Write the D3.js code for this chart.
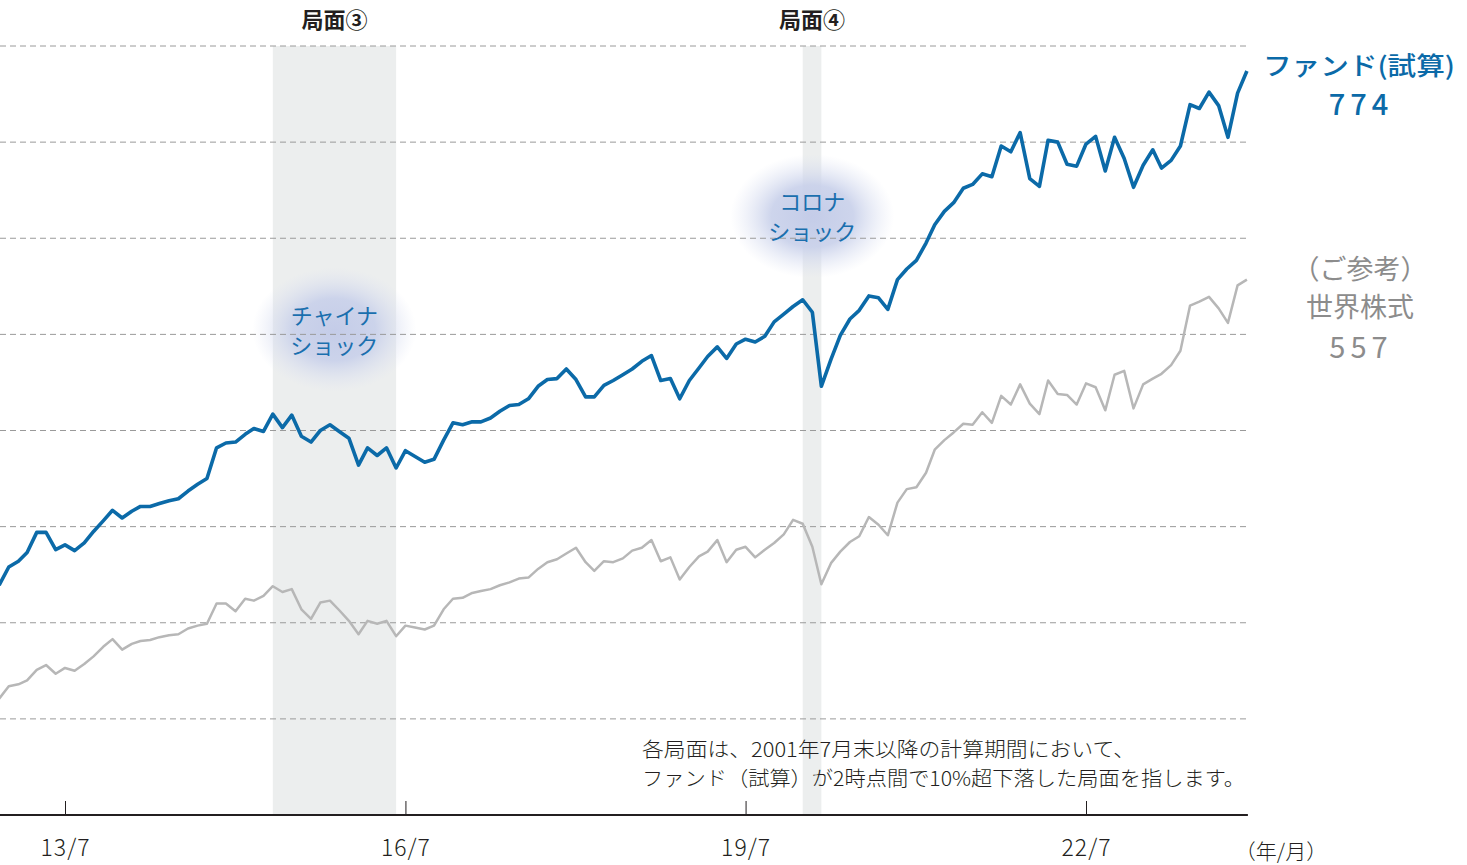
<!DOCTYPE html>
<html>
<head>
<meta charset="utf-8">
<script src="https://cdn.jsdelivr.net/npm/d3@7"></script>
<style>
  body { margin: 0; background: #fff; }
  svg { display: block; font-family: "Noto Sans CJK JP", "Noto Sans", sans-serif; }
</style>
</head>
<body>
<div id="chart"></div>
<script>
// monthly points, 2012/12 .. 2023/12
const months = d3.timeMonth.range(new Date(2012, 11, 1), new Date(2024, 0, 1));

const fund = [239, 258, 264, 273, 294, 294, 276, 281, 275, 283,
  295, 306, 317, 309, 316, 321, 321, 324, 327, 329,
  337, 344, 350, 382, 387, 388, 396, 402, 399, 417,
  403, 416, 394, 388, 400, 406, 399, 392, 364, 382,
  374, 382, 361, 379, 373, 367, 370, 390, 408, 406,
  409, 409, 413, 420, 426, 427, 433, 446, 453, 454,
  464, 453, 435, 435, 447, 452, 458, 464, 472, 478,
  452, 454, 433, 452, 465, 477, 487, 475, 490, 495,
  492, 498, 513, 521, 529, 536, 523, 446, 474, 499,
  516, 525, 540, 538, 526, 557, 568, 577, 595, 614,
  628, 637, 652, 656, 667, 664, 696, 690, 710, 662,
  654, 702, 700, 677, 675, 698, 706, 670, 705, 683,
  653, 676, 692, 673, 681, 696, 739, 735, 752, 738,
  705, 751, 774];

const world = [121, 134, 136, 140, 151, 156, 147, 153, 150, 157,
  165, 175, 183, 172, 178, 181, 182, 185, 187, 188,
  194, 197, 199, 220, 220, 212, 225, 223, 228, 238,
  232, 235, 214, 204, 221, 223, 213, 202, 188, 202,
  199, 202, 186, 197, 195, 193, 197, 214, 225, 226,
  231, 233, 235, 239, 242, 246, 247, 256, 263, 266,
  272, 278, 263, 254, 264, 263, 267, 275, 278, 286,
  264, 268, 245, 258, 269, 274, 286, 263, 276, 279,
  268, 276, 283, 292, 307, 303, 279, 240, 262, 274,
  284, 290, 310, 302, 291, 325, 339, 341, 356, 380,
  390, 398, 407, 406, 419, 408, 436, 427, 448, 428,
  417, 452, 438, 437, 427, 449, 445, 421, 458, 462,
  423, 448, 454, 459, 468, 483, 530, 534, 539, 527,
  512, 551, 557];

const tickDates = [new Date(2013, 6, 1), new Date(2016, 6, 1), new Date(2019, 6, 1), new Date(2022, 6, 1)];
const gridValues = [100, 200, 300, 400, 500, 600, 700, 800];

// drawdown phases (start month, end month)
const phases = [
  { name: "局面③", from: new Date(2015, 4, 1), to: new Date(2016, 5, 1) },
  { name: "局面④", from: new Date(2020, 0, 1), to: new Date(2020, 2, 1) }
];
const shocks = [
  { lines: ["チャイナ", "ショック"], date: new Date(2015, 10, 15), value: 505 },
  { lines: ["コロナ", "ショック"], date: new Date(2020, 1, 1), value: 623 }
];

const width = 1467, height = 865;
const plotLeft = 0;

const svg = d3.select("#chart").append("svg")
  .attr("width", width)
  .attr("height", height);

const x = d3.scaleTime()
  .domain([new Date(2013, 6, 1), new Date(2022, 6, 1)])
  .range([65, 1086]);

const y = d3.scaleLinear()
  .domain([0, 800])
  .range([815, 46]);

const plotRight = x(months[months.length - 1]) + 1;

const defs = svg.append("defs");
defs.append("clipPath").attr("id", "plot")
  .append("rect")
  .attr("x", plotLeft).attr("y", 0)
  .attr("width", plotRight - plotLeft + 4).attr("height", height);

const glow = defs.append("radialGradient").attr("id", "glow");
glow.append("stop").attr("offset", "0%").attr("stop-color", "#c4cce8").attr("stop-opacity", 1);
glow.append("stop").attr("offset", "50%").attr("stop-color", "#c8d0ea").attr("stop-opacity", 0.9);
glow.append("stop").attr("offset", "100%").attr("stop-color", "#dde2f2").attr("stop-opacity", 0);

// shaded phases
svg.selectAll(".phase")
  .data(phases)
  .enter()
  .append("rect")
  .attr("x", d => x(d.from))
  .attr("y", y(800))
  .attr("width", d => x(d.to) - x(d.from))
  .attr("height", y(0) - y(800))
  .attr("fill", "#eceeee");

svg.selectAll(".phase-label")
  .data(phases)
  .enter()
  .append("text")
  .text(d => d.name)
  .attr("x", d => (x(d.from) + x(d.to)) / 2)
  .attr("y", 28)
  .attr("text-anchor", "middle")
  .attr("font-size", 22)
  .attr("font-weight", 700)
  .attr("fill", "#231f20");

// glow bubbles
svg.selectAll(".glow")
  .data(shocks)
  .enter()
  .append("ellipse")
  .attr("cx", d => x(d.date))
  .attr("cy", d => y(d.value))
  .attr("rx", 82)
  .attr("ry", 62)
  .attr("fill", "url(#glow)");

// gridlines
svg.selectAll(".grid")
  .data(gridValues)
  .enter()
  .append("line")
  .attr("x1", plotLeft)
  .attr("x2", plotRight)
  .attr("y1", d => y(d))
  .attr("y2", d => y(d))
  .attr("stroke", "#9a9a9a")
  .attr("stroke-width", 1)
  .attr("stroke-dasharray", "6,4");

// x axis
const axis = svg.append("g")
  .attr("transform", "translate(0," + y(0) + ")")
  .call(d3.axisBottom(x)
    .tickValues(tickDates)
    .tickFormat(d3.timeFormat("%y/%-m"))
    .tickSizeInner(-14)
    .tickSizeOuter(0)
    .tickPadding(25));
axis.select(".domain").remove();
axis.selectAll(".tick line").attr("stroke", "#231f20").attr("stroke-width", 1);
axis.selectAll(".tick text")
  .attr("font-size", 23)
  .attr("font-family", "'Noto Sans CJK JP', sans-serif")
  .attr("font-weight", 300)
  .attr("letter-spacing", 1)
  .attr("fill", "#231f20");

svg.append("line")
  .attr("x1", plotLeft)
  .attr("x2", plotRight)
  .attr("y1", y(0))
  .attr("y2", y(0))
  .attr("stroke", "#231f20")
  .attr("stroke-width", 2);

svg.append("text")
  .text("（年/月）")
  .attr("x", 1281)
  .attr("y", 859)
  .attr("text-anchor", "middle")
  .attr("font-size", 21)
  .attr("font-weight", 300)
  .attr("fill", "#231f20");

// lines
const line = d3.line()
  .x((d, i) => x(months[i]))
  .y(d => y(d));

const lines = svg.append("g").attr("clip-path", "url(#plot)");
lines.append("path")
  .datum(world)
  .attr("d", line)
  .attr("fill", "none")
  .attr("stroke", "#b7b7b7")
  .attr("stroke-width", 2.5)
  .attr("stroke-linejoin", "round");

lines.append("path")
  .datum(fund)
  .attr("d", line)
  .attr("fill", "none")
  .attr("stroke", "#0b6aa8")
  .attr("stroke-width", 3.6)
  .attr("stroke-linejoin", "round");

// shock labels, one text per line
shocks.forEach(s => {
  s.lines.forEach((l, i) => {
    svg.append("text")
      .text(l)
      .attr("x", x(s.date))
      .attr("y", y(s.value) - 6 + i * 30)
      .attr("text-anchor", "middle")
      .attr("font-size", 22)
      .attr("fill", "#1a6fae");
  });
});

// end labels
const last = fund.length - 1;
svg.append("text")
  .text("ファンド(試算)")
  .attr("x", 1263).attr("y", 75)
  .attr("textLength", 192)
  .attr("lengthAdjust", "spacingAndGlyphs")
  .attr("font-size", 25).attr("font-weight", 500)
  .attr("fill", "#0b6aa8");
svg.append("text")
  .text(fund[last])
  .attr("x", 1361).attr("y", 115)
  .attr("text-anchor", "middle")
  .attr("font-size", 29).attr("letter-spacing", 5)
  .attr("font-weight", 500)
  .attr("fill", "#0b6aa8");

const grayLabels = ["（ご参考）", "世界株式"];
grayLabels.forEach((l, i) => {
  svg.append("text")
    .text(l)
    .attr("x", 1360).attr("y", 279 + i * 38)
    .attr("text-anchor", "middle")
    .attr("font-size", 27)
    .attr("fill", "#8c8c8c");
});
svg.append("text")
  .text(world[last])
  .attr("x", 1361).attr("y", 358)
  .attr("text-anchor", "middle")
  .attr("font-size", 29).attr("letter-spacing", 5)
  .attr("fill", "#8c8c8c");

// footnote
const note = ["各局面は、2001年7月末以降の計算期間において、",
  "ファンド（試算）が2時点間で10%超下落した局面を指します。"];
const noteWidths = [493, 603];
note.forEach((l, i) => {
  svg.append("text")
    .text(l)
    .attr("x", 642)
    .attr("y", 757 + i * 29)
    .attr("textLength", noteWidths[i])
    .attr("lengthAdjust", "spacingAndGlyphs")
    .attr("font-size", 20)
    .attr("font-weight", 300)
    .attr("fill", "#231f20");
});
</script>
</body>
</html>
